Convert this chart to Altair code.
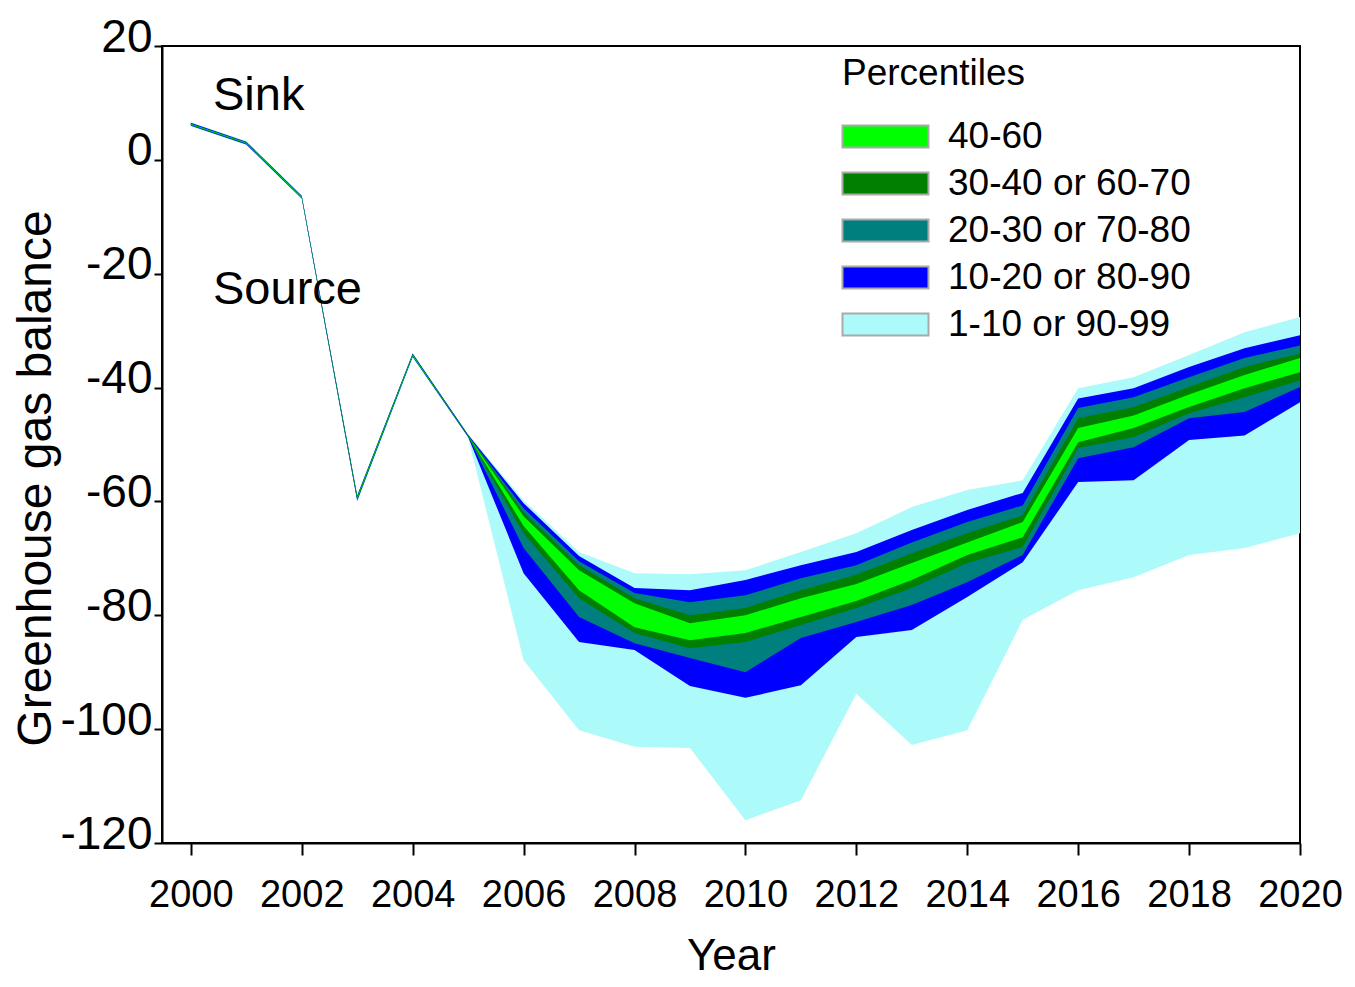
import altair as alt
import pandas as pd

# ---------------- data ----------------
years = list(range(2000, 2021))

p99 = [6.6, 3.3, -6.2, -58.8, -33.9, -48.2, -59.8, -68.9, -72.6, -72.8, -72.1,
       -68.9, -65.6, -61.0, -58.0, -56.3, -40.1, -38.2, -34.3, -30.3, -27.6]
p90 = [6.5, 3.2, -6.3, -59.0, -34.0, -48.3, -60.3, -69.6, -75.2, -75.6, -73.8,
       -71.2, -68.9, -65.0, -61.5, -58.5, -41.9, -40.1, -36.4, -33.1, -30.8]
p80 = [6.4, 3.1, -6.4, -59.1, -34.1, -48.4, -61.2, -70.5, -76.1, -77.7, -76.5,
       -73.5, -71.2, -67.2, -63.6, -60.7, -43.6, -41.7, -38.2, -34.8, -32.6]
p70 = [6.3, 3.0, -6.5, -59.2, -34.2, -48.4, -61.9, -71.2, -77.0, -80.0, -78.7,
       -75.6, -72.9, -69.1, -65.6, -62.4, -45.4, -43.4, -39.9, -36.4, -34.0]
p60 = [6.3, 3.0, -6.5, -59.3, -34.3, -48.5, -62.6, -72.1, -77.9, -81.4, -80.0,
       -77.0, -74.5, -70.8, -67.2, -63.6, -47.1, -44.9, -41.2, -37.8, -34.8]
p40 = [6.2, 2.9, -6.6, -59.5, -34.4, -48.5, -64.3, -75.6, -82.1, -84.4, -83.1,
       -80.3, -77.5, -73.8, -69.4, -66.3, -49.6, -47.1, -43.4, -40.1, -37.3]
p30 = [6.2, 2.9, -6.6, -59.6, -34.4, -48.6, -65.6, -77.0, -83.1, -85.8, -84.7,
       -81.7, -78.7, -75.2, -70.8, -68.0, -50.6, -48.7, -44.5, -41.7, -38.7]
p20 = [6.1, 2.8, -6.7, -59.7, -34.5, -48.6, -68.2, -80.3, -84.9, -87.5, -90.0,
       -84.0, -81.2, -78.2, -74.2, -69.4, -52.4, -50.5, -45.4, -44.3, -39.9]
p10 = [6.0, 2.7, -6.8, -59.9, -34.6, -48.7, -72.6, -84.7, -86.1, -92.4, -94.5,
       -92.3, -83.8, -82.6, -76.8, -70.7, -56.6, -56.3, -49.2, -48.4, -42.6]
p1 = [5.9, 2.6, -6.9, -60.1, -34.8, -48.8, -87.9, -100.2, -103.1, -103.3, -116.0,
      -112.5, -93.8, -102.8, -100.2, -80.8, -75.6, -73.3, -69.4, -68.2, -65.6]

band_labels = ["40-60", "30-40 or 60-70", "20-30 or 70-80", "10-20 or 80-90", "1-10 or 90-99"]
band_colors = ["#00FF00", "#007F00", "#007F7F", "#0000FF", "#ADFAFA"]
band_low = ["p40", "p30", "p20", "p10", "p1"]
band_high = ["p60", "p70", "p80", "p90", "p99"]

x_ticks = list(range(2000, 2021, 2))
y_ticks = list(range(-120, 21, 20))

notes = ["Sink", "Source"]
note_x = [2000.40, 2000.40]
note_y = [11.3, -22.9]

# ---------------- chart ----------------
df = pd.DataFrame({"year": years, "p1": p1, "p10": p10, "p20": p20, "p30": p30,
                   "p40": p40, "p60": p60, "p70": p70, "p80": p80, "p90": p90,
                   "p99": p99})

FONT = "Liberation Sans"
xscale = alt.Scale(domain=[1999.48, 2020], nice=False, zero=False)
yscale = alt.Scale(domain=[-120, 20], nice=False, zero=False)
cscale = alt.Scale(domain=band_labels, range=band_colors)

xaxis = alt.Axis(values=x_ticks, format="d", title="Year", labelFontSize=38,
                 titleFontSize=44, tickSize=12, labelPadding=21,
                 titleY=126, titleBaseline="alphabetic",
                 labelFlush=False, labelOverlap=False, grid=False)
yaxis = alt.Axis(values=y_ticks, title="Greenhouse gas balance",
                 labelExpr="datum.value < 0 ? '-' + abs(datum.value) : '' + datum.value",
                 labelFontSize=46, titleFontSize=48, tickSize=8, labelPadding=2,
                 labelOffset=-9, titleX=-112, titleY=432, titleBaseline="alphabetic",
                 labelFlush=False, labelOverlap=False, grid=False)

rect_path = "M-3.909,-1H3.909V1H-3.909Z"
legend = alt.Legend(title="Percentiles", orient="none", legendX=680, legendY=10,
                    symbolType=rect_path, symbolSize=484, symbolOffset=25,
                    labelOffset=44, rowPadding=9, titlePadding=25,
                    symbolStrokeColor="#aaaaaa", symbolStrokeWidth=2,
                    labelFontSize=37, titleFontSize=37, titleFontWeight="normal",
                    labelLimit=500, titleLimit=500, padding=0, symbolOpacity=1,
                    labelColor="black", titleColor="black")

base = alt.Chart(df)
layers = []
# draw from the outermost band inward
for lab, lo, hi in reversed(list(zip(band_labels, band_low, band_high))):
    layers.append(
        base.transform_calculate(band=f"'{lab}'").mark_area(
            opacity=1, interpolate="linear").encode(
            x=alt.X("year:Q", scale=xscale, axis=xaxis),
            y=alt.Y(f"{lo}:Q", scale=yscale, axis=yaxis),
            y2=alt.Y2(f"{hi}:Q"),
            color=alt.Color("band:N", scale=cscale, legend=legend),
        )
    )

notes_df = pd.DataFrame({"x": note_x, "y": note_y, "t": notes})
text = alt.Chart(notes_df).mark_text(align="left", baseline="middle", fontSize=47,
                                     font=FONT, color="black").encode(
    x=alt.X("x:Q", scale=xscale, axis=xaxis),
    y=alt.Y("y:Q", scale=yscale, axis=yaxis),
    text="t:N",
)

chart = alt.layer(*layers, text).properties(
    width=1138, height=797,
    autosize=alt.AutoSizeParams(type="none"),
    padding={"left": 154, "top": 38, "right": 45, "bottom": 136},
).configure(font=FONT).configure_view(
    stroke="black", strokeWidth=2
).configure_axis(
    domainColor="black", domainWidth=2, tickColor="black", tickWidth=2,
    labelColor="black", titleColor="black", titleFontWeight="normal",
    labelFont=FONT, titleFont=FONT,
).configure_legend(labelFont=FONT, titleFont=FONT)

chart.save("out.html", embed_options={"renderer": "svg", "actions": False})
